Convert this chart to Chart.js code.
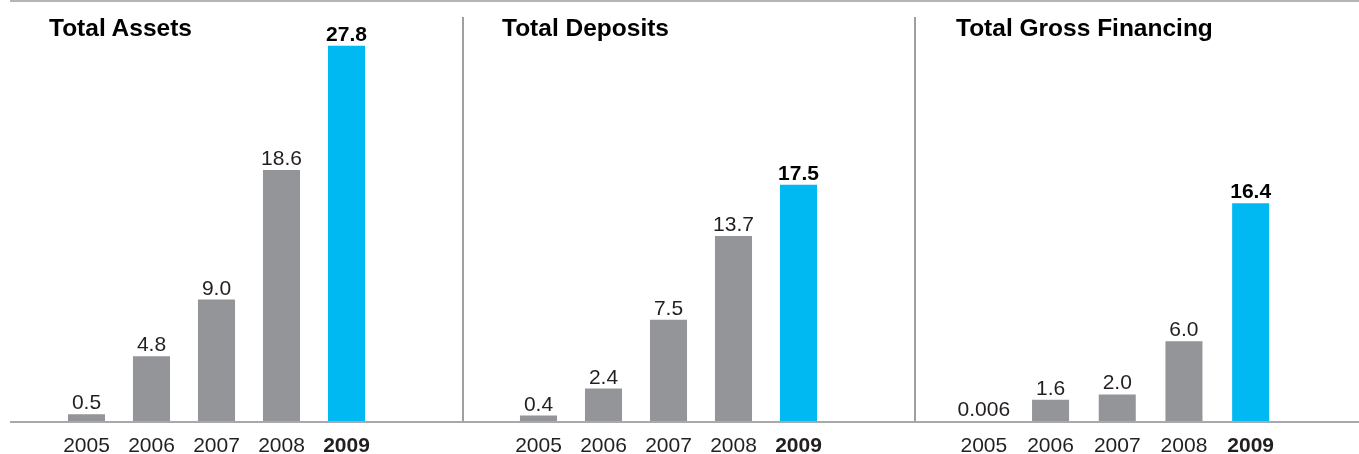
<!DOCTYPE html>
<html>
<head>
<meta charset="utf-8">
<script src="https://cdn.jsdelivr.net/npm/chart.js@4/dist/chart.umd.min.js"></script>
<style>
  body { margin: 0; background: #fff; width: 1359px; height: 454px; position: relative; overflow: hidden;
         font-family: "Liberation Sans", Arial, sans-serif; }
  .panel { position: absolute; top: 0; height: 454px; }
  .title { position: absolute; top: 16px; font-weight: bold; font-size: 24.5px; line-height: 24px; color: #000; white-space: nowrap; z-index: 2; }
  .rule { position: absolute; background: #a7a9ac; }
</style>
</head>
<body>
<div class="rule" style="left:10px;top:0;width:1349px;height:2px;background:#b5b5b5"></div>
<div class="rule" style="left:10px;top:421px;width:1349px;height:2px"></div>
<div class="rule" style="left:462px;top:17px;width:2px;height:404px;background:#9d9fa2"></div>
<div class="rule" style="left:914px;top:17px;width:2px;height:404px;background:#9d9fa2"></div>

<div class="title" style="left:49px">Total Assets</div>
<div class="title" style="left:502px">Total Deposits</div>
<div class="title" style="left:956px">Total Gross Financing</div>

<div class="panel" style="left:10px;width:453px"><canvas id="assets-chart" width="453" height="454"></canvas></div>
<div class="panel" style="left:463px;width:452px"><canvas id="deposits-chart" width="452" height="454"></canvas></div>
<div class="panel" style="left:915px;width:444px"><canvas id="financing-chart" width="444" height="454"></canvas></div>

<script>
// Figures in RM billion
const years = ['2005', '2006', '2007', '2008', '2009'];
const totalAssets = [0.5, 4.8, 9.0, 18.6, 27.8];
const totalDeposits = [0.4, 2.4, 7.5, 13.7, 17.5];
const grossFinancing = [0.006, 1.6, 2.0, 6.0, 16.4];

const GREY = '#939598';
const BLUE = '#00b9f2';
const FONT = '"Liberation Sans", Arial, sans-serif';

const fmt = v => v < 0.1 ? String(v) : v.toFixed(1);

// value labels above each bar, last year in bold
const valueLabels = {
  id: 'valueLabels',
  afterDatasetsDraw(chart) {
    const ctx = chart.ctx;
    const ds = chart.data.datasets[0];
    chart.getDatasetMeta(0).data.forEach((bar, i) => {
      const last = i === ds.data.length - 1;
      ctx.save();
      ctx.font = (last ? 'bold ' : '') + '21px ' + FONT;
      ctx.fillStyle = last ? '#000' : '#231f20';
      ctx.textAlign = 'center';
      ctx.textBaseline = 'alphabetic';
      ctx.fillText(fmt(ds.data[i]), bar.x, bar.y - 5);
      ctx.restore();
    });
  }
};

function barChart(id, values, yMax, pad, barPct) {
  const ctx = document.getElementById(id);
  new Chart(ctx, {
    type: 'bar',
    data: {
      labels: years,
      datasets: [{
        data: values,
        backgroundColor: values.map((v, i) => i === values.length - 1 ? BLUE : GREY),
        borderWidth: 0,
        barPercentage: barPct,
        categoryPercentage: 1
      }]
    },
    options: {
      responsive: false, animation: false,
      layout: { padding: { left: pad[0], right: pad[1], top: 16, bottom: 0 } },
      plugins: { legend: { display: false }, tooltip: { enabled: false } },
      scales: {
        x: {
          grid: { display: false, drawTicks: false },
          border: { display: false },
          ticks: {
            padding: 13, color: '#231f20',
            font: c => ({ family: FONT, size: 21, weight: c.index === 4 ? 'bold' : 'normal' })
          },
          afterFit: s => { s.height = 33; }
        },
        y: { display: false, min: 0, max: yMax }
      }
    },
    plugins: [valueLabels]
  });
}

barChart('assets-chart', totalAssets, 30.0, [44, 84], 0.57);
barChart('deposits-chart', totalDeposits, 30.0, [43, 84], 0.57);
barChart('financing-chart', grossFinancing, 30.5, [35.5, 75], 0.555);
</script>
</body>
</html>
